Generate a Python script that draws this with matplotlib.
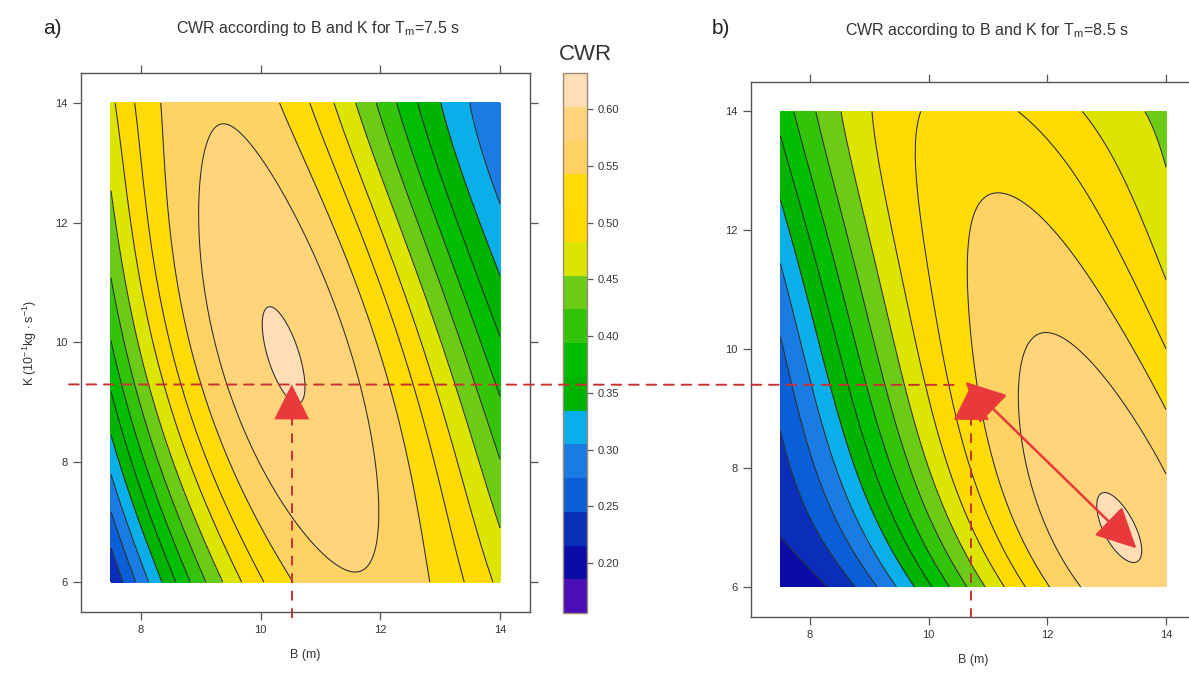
import numpy as np
import matplotlib
matplotlib.use('Agg')
import matplotlib.pyplot as plt
from matplotlib.patches import ConnectionPatch

plt.rcParams['font.family'] = ['Liberation Sans', 'DejaVu Sans']
plt.rcParams['mathtext.fontset'] = 'custom'
plt.rcParams['mathtext.rm'] = 'Liberation Sans'
plt.rcParams['mathtext.it'] = 'Liberation Sans'

# сетка, на которой сняты значения CWR
B_grid = [7.5, 8.5, 9.5, 10.5, 11.5, 12.5, 13.5, 14.0]
K_grid = [6, 8, 10, 12, 14]

# Tm = 7.5 s (строки по K снизу вверх)
cwr_a = [
    [0.235, 0.340, 0.450, 0.550, 0.571, 0.560, 0.505, 0.475],
    [0.300, 0.440, 0.555, 0.597, 0.595, 0.533, 0.463, 0.427],
    [0.385, 0.540, 0.587, 0.598, 0.550, 0.488, 0.410, 0.370],
    [0.445, 0.548, 0.584, 0.572, 0.513, 0.436, 0.360, 0.315],
    [0.478, 0.550, 0.562, 0.533, 0.466, 0.386, 0.305, 0.275],
]
# Tm = 8.5 s
cwr_b = [
    [0.195, 0.240, 0.308, 0.394, 0.505, 0.570, 0.598, 0.590],
    [0.232, 0.300, 0.400, 0.505, 0.578, 0.590, 0.588, 0.565],
    [0.275, 0.365, 0.465, 0.545, 0.565, 0.566, 0.538, 0.510],
    [0.320, 0.415, 0.490, 0.530, 0.543, 0.525, 0.500, 0.478],
    [0.375, 0.451, 0.499, 0.527, 0.516, 0.490, 0.457, 0.440],
]
# максимумы CWR (B, K, CWR)
peak_a = (10.55, 9.2, 0.605)
peak_b = (13.6, 6.65, 0.6045)

# оптимум для Tm=7.5 и та же точка на второй карте
opt_a = (10.52, 9.3)
opt_b = (10.72, 9.4)

levels = np.linspace(0.156, 0.632, 17)
band_colors = ['#4a0db8', '#0b0ba8', '#0a2dba', '#0a5ed6', '#1a7ce2', '#0aaee8',
               '#00b300', '#00bd00', '#33c40a', '#6bcb16', '#dce500', '#ffda00',
               '#ffdc05', '#ffd264', '#ffd47a', '#ffddb5']
cb_ticks = [0.20, 0.25, 0.30, 0.35, 0.40, 0.45, 0.50, 0.55, 0.60]
red = '#e83a3a'
axis_col = '#555555'


def poly_terms(b, k, deg=4):
    u = (np.asarray(b) - 10.75) / 3.25
    v = (np.asarray(k) - 10.0) / 4.0
    cols = [u ** i * v ** (d - i) for d in range(deg + 1) for i in range(d + 1)]
    return np.stack(cols, axis=-1)


def surface(cwr, peak, w_peak):
    # полиномиальная поверхность отклика по снятым точкам
    bb, kk = np.meshgrid(B_grid, K_grid)
    x = np.append(bb.ravel(), [peak[0]] * w_peak)
    y = np.append(kk.ravel(), [peak[1]] * w_peak)
    z = np.append(np.array(cwr).ravel(), [peak[2]] * w_peak)
    coef, *_ = np.linalg.lstsq(poly_terms(x, y), z, rcond=None)
    bf, kf = np.meshgrid(np.linspace(7.5, 14, 240), np.linspace(6, 14, 240))
    return bf, kf, poly_terms(bf, kf) @ coef


def style_axes(ax, ylab=True):
    ax.set_xlim(7.0, 14.5)
    ax.set_ylim(5.5, 14.5)
    ax.set_xticks([8, 10, 12, 14])
    ax.set_yticks([6, 8, 10, 12, 14])
    ax.tick_params(direction='out', length=6, width=0.9, color=axis_col,
                   labelsize=8, labelcolor='#333333', top=True, right=True)
    for s in ax.spines.values():
        s.set_color(axis_col)
        s.set_linewidth(1.0)
    ax.set_xlabel('B (m)', fontsize=9, color='#333333', labelpad=10)
    if ylab:
        ax.set_ylabel(r'K (10$^{\mathregular{-1}}$kg $\cdot$ s$^{\mathregular{-1}}$)',
                      fontsize=9, color='#333333', labelpad=12)


fig = plt.figure(figsize=(11.89, 6.76), dpi=100)
W, H = 1189, 676
ax1 = fig.add_axes([81 / W, 1 - 612 / H, 449 / W, 539 / H])
ax2 = fig.add_axes([750.7 / W, 1 - 616.7 / H, 445 / W, 535 / H])
cax = fig.add_axes([563 / W, 1 - 613 / H, 24 / W, 540 / H])

for ax, cwr, peak, w in [(ax1, cwr_a, peak_a, 10), (ax2, cwr_b, peak_b, 6)]:
    bf, kf, zf = surface(cwr, peak, w)
    cf = ax.contourf(bf, kf, zf, levels=levels, colors=band_colors)
    ax.contour(bf, kf, zf, levels=levels, colors='#2a2a2a', linewidths=0.75)

style_axes(ax1)
style_axes(ax2, ylab=False)

cb = fig.colorbar(cf, cax=cax, ticks=cb_ticks)
cb.outline.set_edgecolor('#9a8a7a')
cb.outline.set_linewidth(1.0)
cb.ax.set_yticklabels(['%.2f' % t for t in cb_ticks])
cb.ax.tick_params(length=4, width=0.9, color=axis_col, labelsize=8, labelcolor='#333333')
fig.text(585 / W, 1 - 55 / H, 'CWR', ha='center', va='center', fontsize=16, color='#333333')

fig.text(43 / W, 1 - 28 / H, 'a)', ha='left', va='center', fontsize=15, color='#222222')
fig.text(712 / W, 1 - 29 / H, 'b)', ha='left', va='center', fontsize=15, color='#222222')
fig.text(318 / W, 1 - 28 / H, r'CWR according to B and K for T$_\mathregular{m}$=7.5 s',
         ha='center', va='center', fontsize=11.5, color='#333333')
fig.text(987 / W, 1 - 31 / H, r'CWR according to B and K for T$_\mathregular{m}$=8.5 s',
         ha='center', va='center', fontsize=11.5, color='#333333')

# пунктир от оптимума a) к карте b)
dash = dict(color='#c83232', lw=1.4, linestyle=(0, (5, 4)))
con = ConnectionPatch(xyA=(6.8, opt_a[1]), coordsA=ax1.transData,
                      xyB=(opt_b[0] - 0.3, opt_b[1]), coordsB=ax2.transData, **dash)
con.set_clip_on(False)
fig.add_artist(con)
ax1.plot([opt_a[0], opt_a[0]], [5.4, opt_a[1] - 0.3], clip_on=False, **dash)
ax2.plot([opt_b[0], opt_b[0]], [5.47, opt_b[1] - 0.3], clip_on=False, **dash)

head = dict(arrowstyle='-|>,head_length=0.9,head_width=0.45', color=red, lw=0,
            mutation_scale=28, shrinkA=0, shrinkB=0)
ax1.annotate('', xy=opt_a, xytext=(opt_a[0], opt_a[1] - 0.45), arrowprops=head)
ax2.annotate('', xy=opt_b, xytext=(opt_b[0], opt_b[1] - 0.45), arrowprops=head)
ax2.annotate('', xy=(peak_b[0] - 0.1, peak_b[1]), xytext=(opt_b[0] - 0.1, opt_b[1] + 0.05),
             arrowprops=dict(arrowstyle='<|-|>,head_length=0.9,head_width=0.45',
                             color=red, lw=1.8, mutation_scale=28, shrinkA=0, shrinkB=0))

fig.savefig('out.png', dpi=100)
